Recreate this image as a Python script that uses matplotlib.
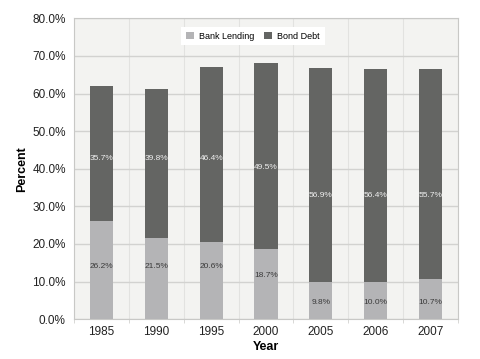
import matplotlib
matplotlib.use("Agg")
import matplotlib.pyplot as plt
import numpy as np

years = ["1985", "1990", "1995", "2000", "2005", "2006", "2007"]
bank = [26.2, 21.5, 20.6, 18.7, 9.8, 10.0, 10.7]
bond = [35.7, 39.8, 46.4, 49.5, 56.9, 56.4, 55.7]

# where the value labels sit (percent units), as placed in the original
bank_lab_y = [14.1, 14.1, 14.1, 11.7, 4.3, 4.3, 4.3]
bond_lab_y = [42.6, 42.6, 42.6, 40.2, 33.0, 33.0, 33.0]

BANK, BOND, BG, GRID = "#b4b4b6", "#646563", "#f3f3f1", "#d2d2d0"
plt.rcParams.update({"font.family": ["Liberation Sans", "DejaVu Sans"]})

fig = plt.figure(figsize=(4.81, 3.59), dpi=100)
fig.patch.set_facecolor("white")
ax = fig.add_axes([0.154, 0.111, 0.798, 0.838])
ax.set_facecolor(BG)

x = np.arange(len(years))
bw = 0.42
ax.bar(x, bank, bw, color=BANK, label="Bank Lending", zorder=3)
ax.bar(x, bond, bw, bottom=bank, color=BOND, label="Bond Debt", zorder=3)

for xi, b, d, yb, yd in zip(x, bank, bond, bank_lab_y, bond_lab_y):
    ax.text(xi, yb, f"{b:.1f}%", ha="center", va="center", fontsize=6, color="#3a3a3a", zorder=4)
    ax.text(xi, yd, f"{d:.1f}%", ha="center", va="center", fontsize=6, color="#f0f0f0", zorder=4)

ax.set_xlim(-0.5, len(years) - 0.5)
ax.set_ylim(0, 80)
ax.set_yticks(np.arange(0, 81, 10))
ax.set_yticklabels([f"{v:.1f}%" for v in np.arange(0, 81, 10)], fontsize=8.5, color="#222222")
ax.set_xticks(x)
ax.set_xticklabels(years, fontsize=8.5, color="#222222")
ax.set_xticks(np.arange(-0.5, len(years), 1), minor=True)
ax.tick_params(axis="x", which="major", length=0, pad=5)
ax.tick_params(axis="x", which="minor", length=3, color=GRID)
ax.tick_params(axis="y", length=0, pad=6)
ax.yaxis.grid(True, color=GRID, lw=1, zorder=0)
ax.xaxis.grid(True, which="minor", color="#e2e2e0", lw=0.8, zorder=0)
for sp in ax.spines.values():
    sp.set_color("#c8c8c6")

ax.set_xlabel("Year", fontsize=9, fontweight="bold", labelpad=2)
ax.set_ylabel("Percent", fontsize=9, fontweight="bold", labelpad=3)

leg = ax.legend(loc="upper center", bbox_to_anchor=(0.466, 0.985), ncol=2, fontsize=6.5,
                frameon=True, fancybox=False, edgecolor="white", facecolor="white",
                framealpha=1, handlelength=0.9, handleheight=0.9, columnspacing=1.0,
                handletextpad=0.6, borderpad=0.5)
leg.get_frame().set_linewidth(0)

fig.savefig("out.png", dpi=100, facecolor="white")
